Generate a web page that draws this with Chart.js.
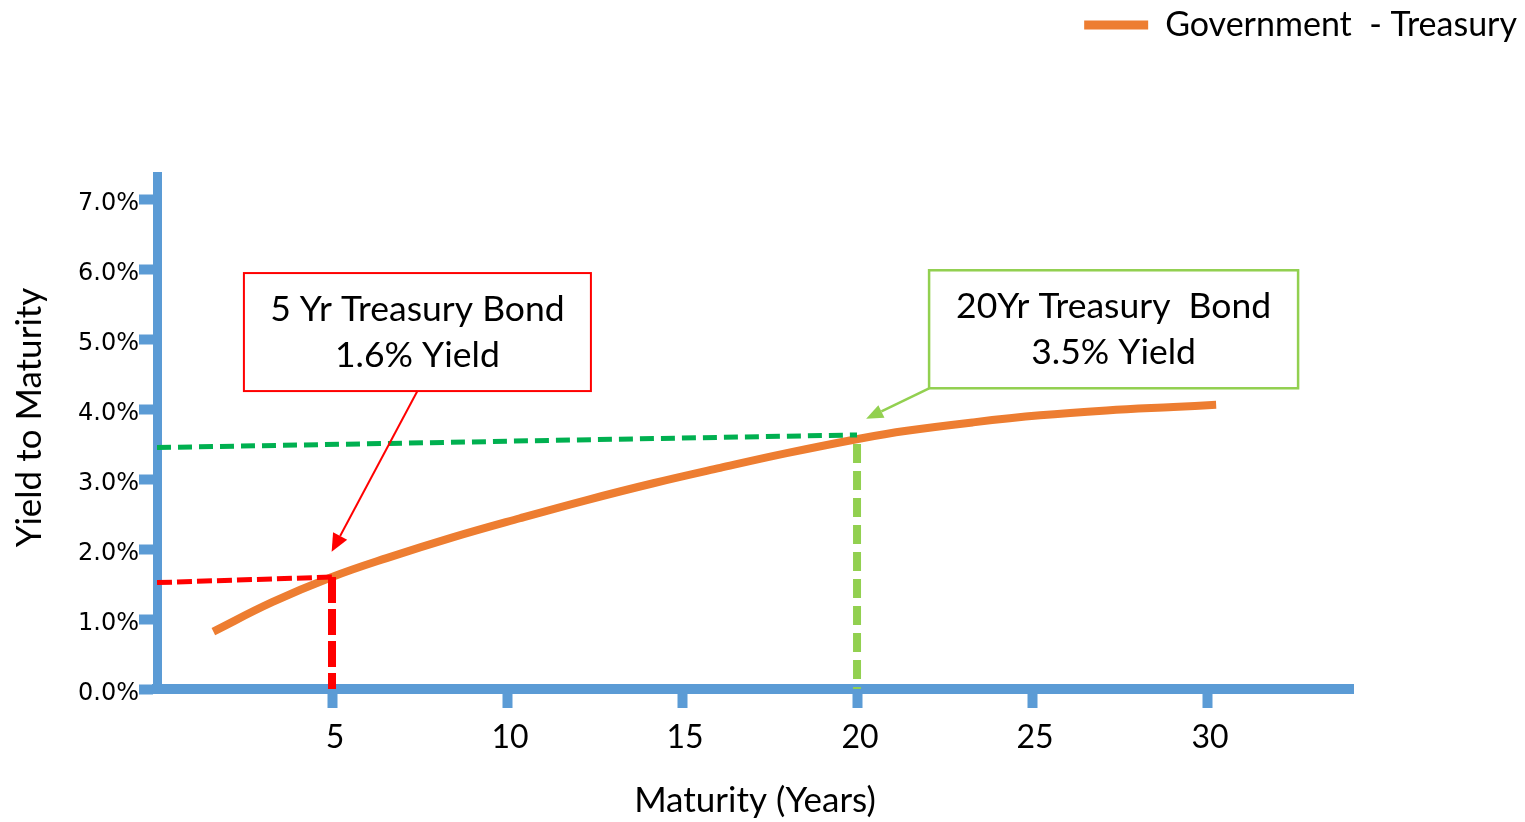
<!DOCTYPE html>
<html>
<head>
<meta charset="utf-8">
<script src="https://cdn.jsdelivr.net/npm/chart.js@4.4.1/dist/chart.umd.min.js"></script>
<style>
  html, body { margin: 0; padding: 0; background: #ffffff; }
  canvas { display: block; }
</style>
</head>
<body>
<canvas id="yieldCurve" width="1525" height="822"></canvas>
<script>
// Treasury yield curve (maturity in years, yield in %)
const maturityYears = [1.61, 3.29, 5.0, 6.56, 8.47, 10.37, 12.28, 14.18, 16.09, 17.99, 20.1, 21.42, 23.32, 25.23, 27.13, 29.04, 30.26];
const treasuryYield = [0.82, 1.24, 1.60, 1.87, 2.17, 2.44, 2.70, 2.94, 3.16, 3.37, 3.58, 3.69, 3.81, 3.91, 3.98, 4.03, 4.06];

// Guide lines for the 5-year and 20-year bonds
const fiveYrLevelX = [0, 5];
const fiveYrLevelY = [1.52, 1.6];
const fiveYrDropX = [5, 5];
const fiveYrDropY = [1.6, 0];
const twentyYrLevelX = [0, 20];
const twentyYrLevelY = [3.45, 3.63];
const twentyYrDropX = [20, 20];
const twentyYrDropY = [3.5, 0];

// Axis ticks
const xTickValues = [5, 10, 15, 20, 25, 30];
const yTickValues = [0, 1, 2, 3, 4, 5, 6, 7];

// Callouts: text lines, centre (data units) and arrow tip (data units)
const calloutLines = [["5 Yr Treasury Bond", "1.6% Yield"], ["20Yr Treasury  Bond", "3.5% Yield"]];
const calloutCenterX = [7.44, 27.33];
const calloutCenterY = [5.10, 5.14];
const arrowTipX = [4.99, 20.26];
const arrowTipY = [1.96, 3.86];

const BLUE = '#5b9bd5';
const ORANGE = '#ed7d31';
const RED = '#ff0000';
const DARK_GREEN = '#00b050';
const LIGHT_GREEN = '#92d050';
const FONT = 'Lato';

function toPoints(xs, ys) { return xs.map((x, i) => ({ x: x, y: ys[i] })); }

const calloutStyles = [
  { w: 347, h: 118, color: RED, border: 2, arrowWidth: 2, headLen: 18, headHalf: 8, from: 'bottomCenter' },
  { w: 369, h: 118, color: LIGHT_GREEN, border: 2.5, arrowWidth: 2.5, headLen: 17, headHalf: 7, from: 'bottomLeft' }
];

// Callout boxes with arrows, plus the vertical axis title
const calloutPlugin = {
  id: 'callouts',
  afterDatasetsDraw(chart) {
    const ctx = chart.ctx;
    const xs = chart.scales.x, ys = chart.scales.y;
    const area = chart.chartArea;

    ctx.save();
    ctx.translate(30, (area.top + area.bottom) / 2 - 15);
    ctx.rotate(-Math.PI / 2);
    ctx.fillStyle = '#000000';
    ctx.font = '35px ' + FONT;
    ctx.textAlign = 'center';
    ctx.textBaseline = 'middle';
    ctx.fillText('Yield to Maturity', 0, 0);
    ctx.restore();

    calloutLines.forEach((lines, i) => {
      const st = calloutStyles[i];
      const cx = xs.getPixelForValue(calloutCenterX[i]);
      const cy = ys.getPixelForValue(calloutCenterY[i]);
      const left = cx - st.w / 2, top = cy - st.h / 2;
      ctx.save();
      ctx.fillStyle = '#ffffff';
      ctx.fillRect(left, top, st.w, st.h);
      ctx.strokeStyle = st.color;
      ctx.lineWidth = st.border;
      ctx.strokeRect(left, top, st.w, st.h);
      ctx.fillStyle = '#000000';
      ctx.font = '35.5px ' + FONT;
      ctx.textAlign = 'center';
      ctx.textBaseline = 'alphabetic';
      ctx.fillText(lines[0], cx, top + 48);
      ctx.fillText(lines[1], cx, top + 94);
      const sx = st.from === 'bottomLeft' ? left : cx;
      const sy = top + st.h;
      const tx = xs.getPixelForValue(arrowTipX[i]);
      const ty = ys.getPixelForValue(arrowTipY[i]);
      const ang = Math.atan2(ty - sy, tx - sx);
      const bx = tx - st.headLen * Math.cos(ang);
      const by = ty - st.headLen * Math.sin(ang);
      ctx.strokeStyle = st.color;
      ctx.lineWidth = st.arrowWidth;
      ctx.beginPath();
      ctx.moveTo(sx, sy);
      ctx.lineTo(bx, by);
      ctx.stroke();
      ctx.fillStyle = st.color;
      ctx.beginPath();
      ctx.moveTo(tx, ty);
      ctx.lineTo(bx + st.headHalf * Math.sin(ang), by - st.headHalf * Math.cos(ang));
      ctx.lineTo(bx - st.headHalf * Math.sin(ang), by + st.headHalf * Math.cos(ang));
      ctx.closePath();
      ctx.fill();
      ctx.restore();
    });
  }
};

function guide(points, color, width, dash, order) {
  return {
    data: points, borderColor: color, borderWidth: width, borderDash: dash,
    borderCapStyle: 'butt', pointRadius: 0, fill: false, tension: 0, order: order
  };
}

function draw() {
  new Chart(document.getElementById('yieldCurve'), {
    type: 'line',
    data: {
      datasets: [
        {
          label: 'Government  - Treasury',
          data: toPoints(maturityYears, treasuryYield),
          borderColor: ORANGE, backgroundColor: ORANGE, borderWidth: 8,
          borderCapStyle: 'butt', pointRadius: 0, fill: false,
          tension: 0.4, order: 10
        },
        guide(toPoints(twentyYrLevelX, twentyYrLevelY), DARK_GREEN, 5, [14, 7], 2),
        guide(toPoints(twentyYrDropX, twentyYrDropY), LIGHT_GREEN, 8, [19, 8], 2),
        guide(toPoints(fiveYrLevelX, fiveYrLevelY), RED, 5, [15, 5], 1),
        guide(toPoints(fiveYrDropX, fiveYrDropY), RED, 8, [26, 6], 1)
      ]
    },
    options: {
      responsive: false,
      animation: false,
      events: [],
      layout: { padding: 0 },
      plugins: {
        legend: {
          display: true, position: 'top', align: 'end', weight: 3000,
          labels: {
            boxWidth: 64, boxHeight: 9, padding: 8, color: '#000000',
            font: { family: FONT, size: 34 },
            generateLabels: () => [{
              text: 'Government  - Treasury', fillStyle: ORANGE, strokeStyle: ORANGE,
              lineWidth: 0, hidden: false, datasetIndex: 0
            }]
          }
        },
        title: { display: true, text: '', font: { size: 10 }, padding: { top: 0, bottom: 112 } },
        tooltip: { enabled: false }
      },
      scales: {
        x: {
          type: 'linear', position: 'bottom', min: 0, max: 34.17,
          afterFit: s => { s.height = 133; },
          afterBuildTicks: s => { s.ticks = xTickValues.map(v => ({ value: v })); },
          grid: { display: true, drawOnChartArea: false, drawTicks: true, tickLength: 19, tickWidth: 10, tickColor: BLUE },
          border: { display: true, color: BLUE, width: 10 },
          ticks: { color: '#000000', font: { family: FONT, size: 32 }, padding: 10, labelOffset: 3, maxRotation: 0, autoSkip: false },
          title: { display: true, text: 'Maturity (Years)', color: '#000000', font: { family: FONT, size: 35 }, padding: { top: 0, bottom: 0 } }
        },
        y: {
          type: 'linear', position: 'left', min: 0, max: 7.33,
          afterFit: s => { s.width = 157; },
          afterBuildTicks: s => { s.ticks = yTickValues.map(v => ({ value: v })); },
          grid: { display: true, drawOnChartArea: false, drawTicks: true, tickLength: 18, tickWidth: 10, tickColor: BLUE },
          border: { display: true, color: BLUE, width: 9 },
          ticks: { color: '#000000', font: { family: 'DejaVu Sans', size: 24 }, padding: 0, labelOffset: 5,
                   callback: v => v.toFixed(1) + '%' },
          title: { display: false }
        },
        rightMargin: {
          type: 'linear', position: 'right', display: true,
          afterFit: s => { s.width = 172; },
          grid: { display: false }, border: { display: false }, ticks: { display: false }
        }
      }
    },
    plugins: [calloutPlugin]
  });
}

Promise.all([
  document.fonts.load('34px Lato'),
  document.fonts.load('24px "DejaVu Sans"')
]).then(draw, draw);
</script>
</body>
</html>
